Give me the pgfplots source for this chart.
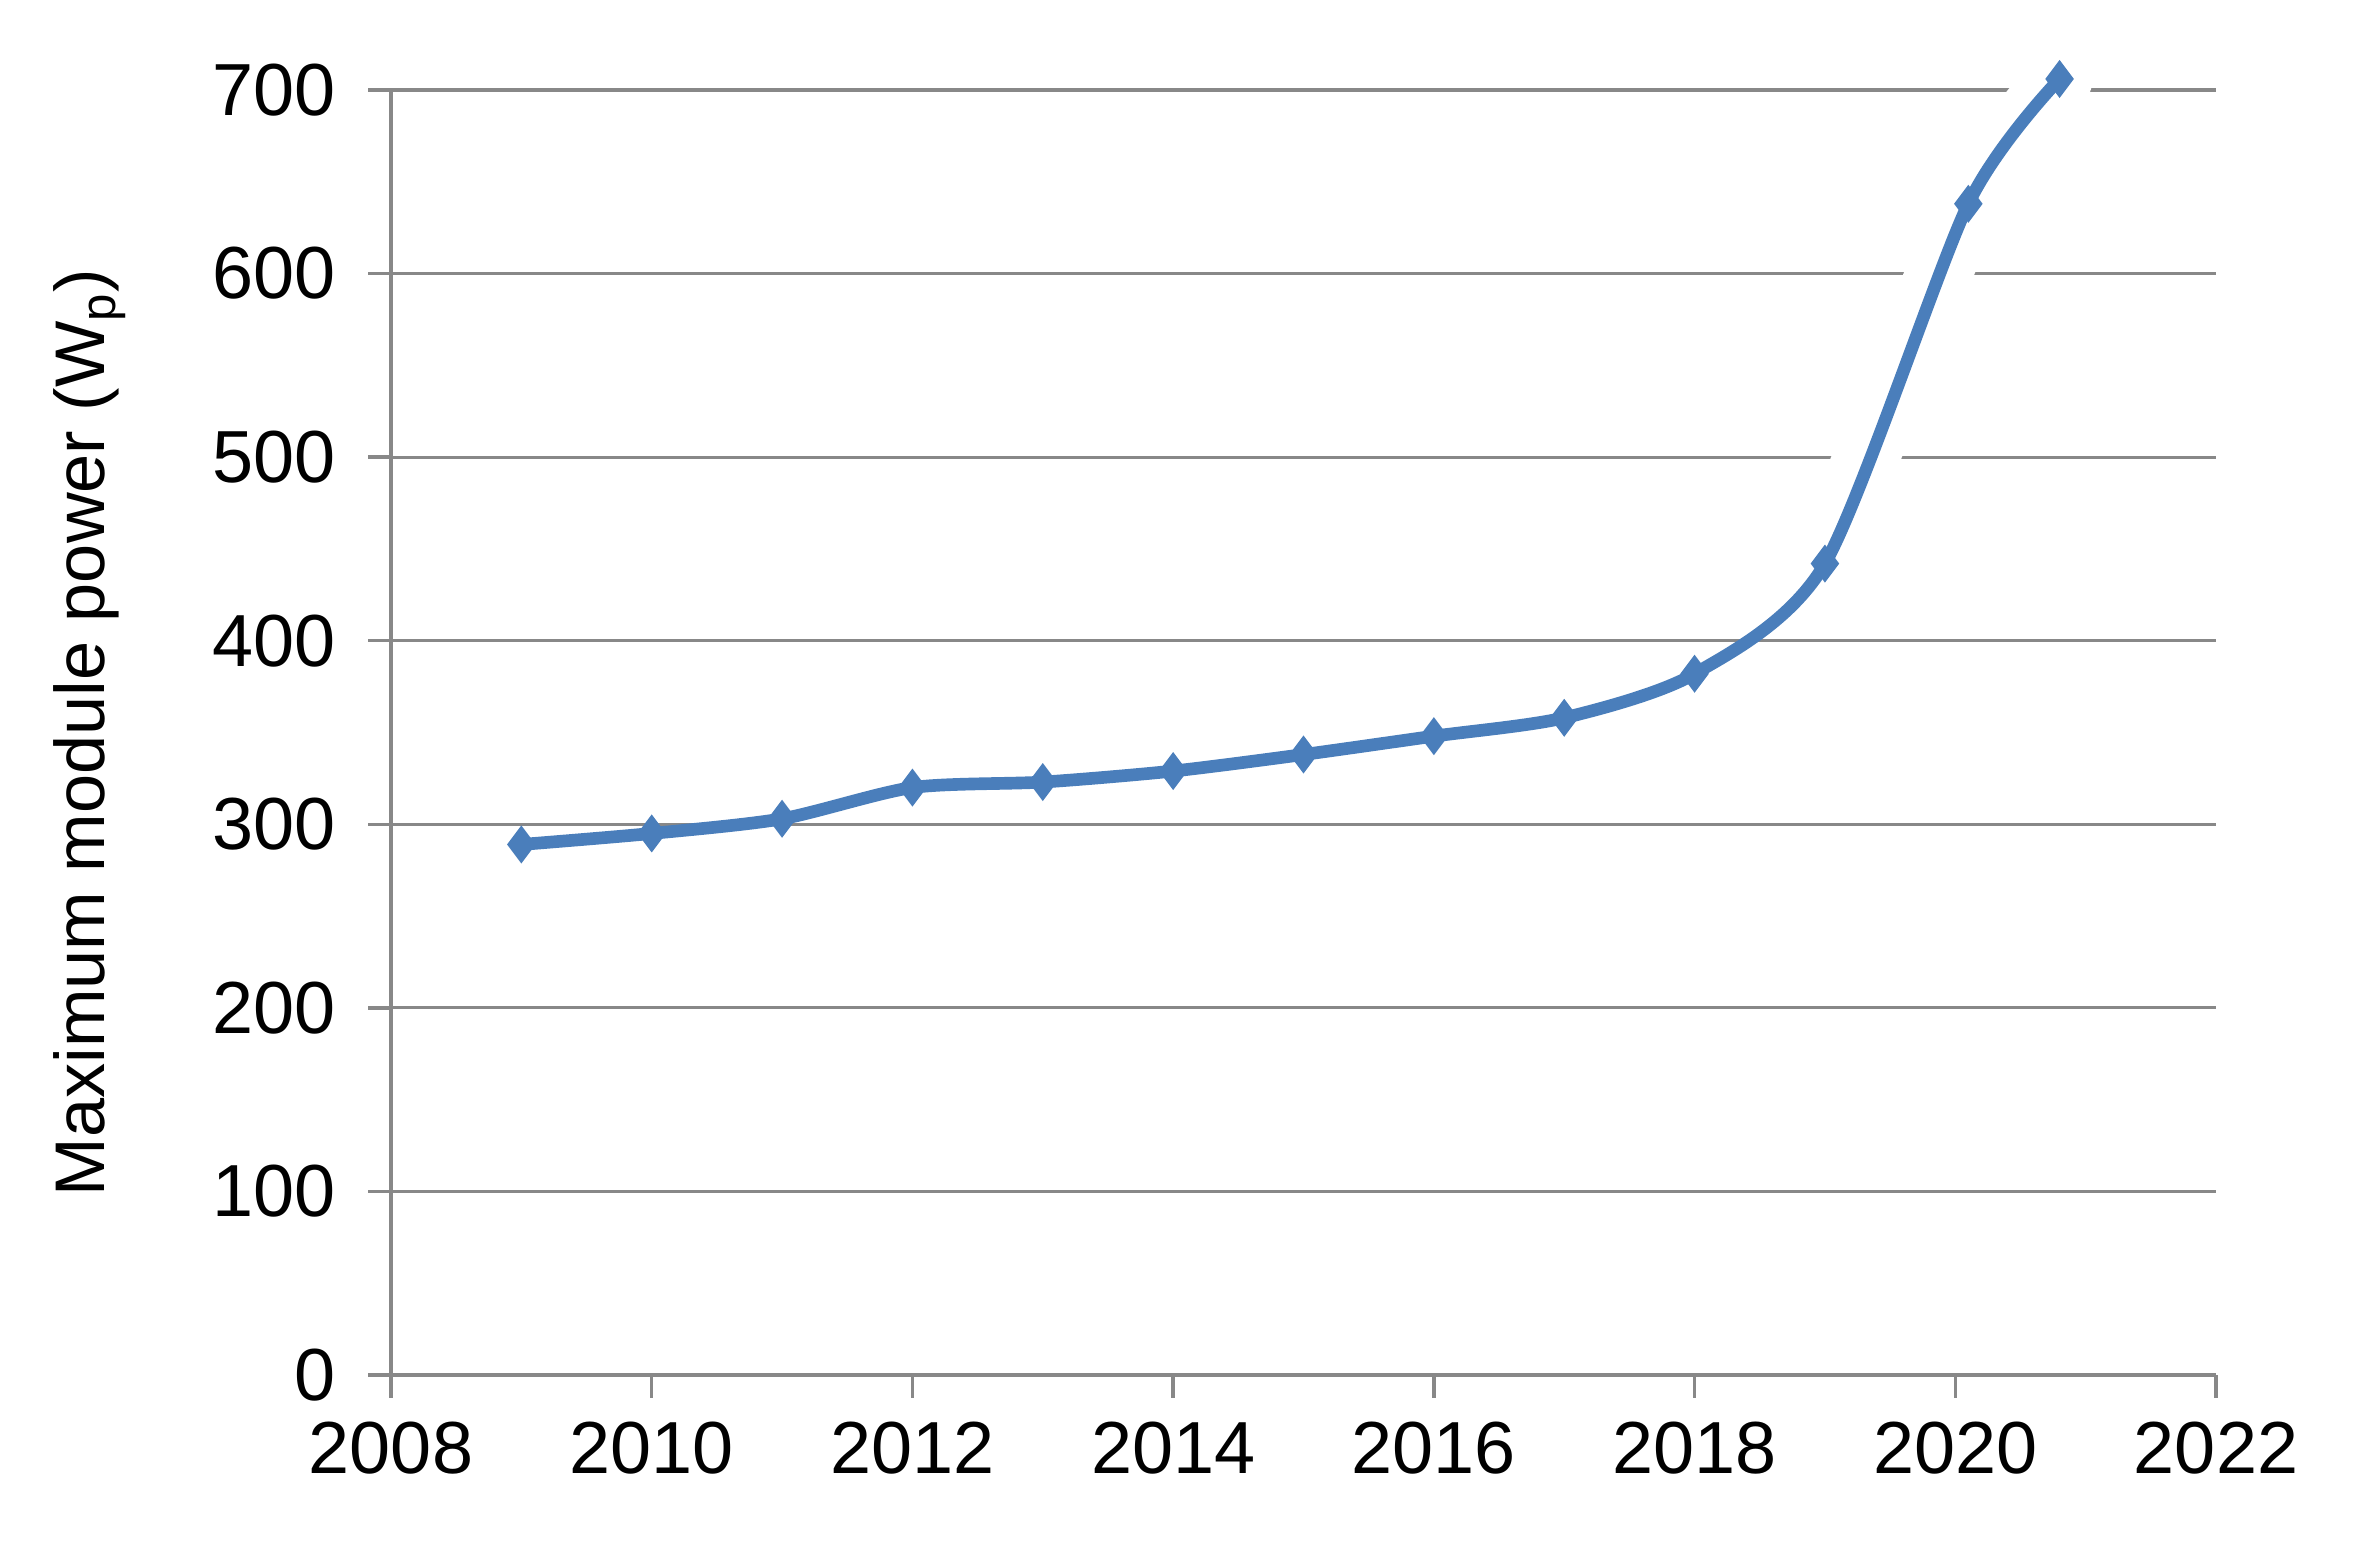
\documentclass[border=0pt]{standalone}
\usepackage{fontspec}
\setmainfont{Liberation Sans}
\usepackage{pgfplots}
\pgfplotsset{compat=1.18}
\definecolor{lineblue}{HTML}{4A7EBB}
\definecolor{gridgray}{HTML}{888888}
\begin{document}
\begin{tikzpicture}[x=1cm,y=1cm]
\path[use as bounding box] (-3.91,-1.73) rectangle (19.65,13.75);
\begin{axis}[
  at={(0,0)}, anchor=south west,
  scale only axis, width=18.25cm, height=12.85cm,
  xmin=2008, xmax=2022, ymin=0, ymax=700,
  xtick={2008,2010,...,2022}, ytick={0,100,...,700},
  axis x line=bottom, axis y line=left,
  axis line style={-, gridgray, line width=1pt},
  tick align=outside,
  major tick length=0.23cm,
  tick style={gridgray, line width=1pt},
  ymajorgrids, grid style={gridgray, line width=0.9pt},
  /pgf/number format/assume math mode=true,
  /pgf/number format/1000 sep={},
  ticklabel style={font=\fontsize{21}{25}\selectfont, black},
  xticklabel style={yshift=-0.12cm},
  yticklabel style={xshift=-0.2cm},
  every axis y label/.style={at={(axis description cs:-0.165,0.5)}, anchor=center, rotate=90},
  ylabel={Maximum module power (W\textsubscript{p})},
  ylabel style={font=\fontsize{20}{24}\selectfont},
  clip=false,
]
% white halo round the steep upper part of the curve (as in the reference)
\addplot[white, line width=0.66cm, line cap=round, smooth, tension=0.3] coordinates {
(2019,442) (2020.1,638) (2020.8,706)
};
% redraw the 400 grid line where the halo start would cover it is not needed (halo stays above 400)
\addplot[lineblue, line width=3.6pt, smooth, tension=0.45, mark=diamond*, mark size=5pt, mark options={solid, fill=lineblue, line width=0.5pt}] coordinates {
(2009,289) (2010,295) (2011,303) (2012,320) (2013,323) (2014,329) (2015,338) (2016,348) (2017,358) (2018,382) (2019,442) (2020.1,638) (2020.8,706)
};
\end{axis}
\end{tikzpicture}
\end{document}
